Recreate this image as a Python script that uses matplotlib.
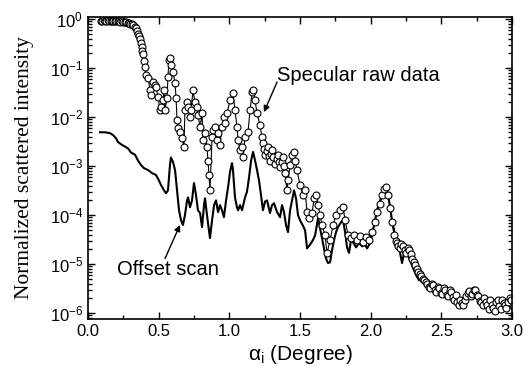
import matplotlib
matplotlib.use("Agg")
import matplotlib.pyplot as plt
from matplotlib.ticker import LogLocator, MultipleLocator, NullFormatter

plt.rcParams['font.family'] = ['Liberation Sans', 'DejaVu Sans']
plt.rcParams['mathtext.fontset'] = 'custom'
plt.rcParams['mathtext.rm'] = 'Liberation Sans'
plt.rcParams['mathtext.it'] = 'Liberation Sans:italic'

# specular raw data (open circles)
spec_x = [0.09, 0.10, 0.11, 0.12, 0.13, 0.14, 0.15, 0.16, 0.17, 0.18, 0.19, 0.20,
          0.21, 0.22, 0.23, 0.24, 0.25, 0.26, 0.27, 0.28, 0.29, 0.30, 0.31, 0.32,
          0.33, 0.34, 0.35, 0.355, 0.36, 0.37, 0.375, 0.38, 0.385, 0.39, 0.395, 0.40,
          0.410, 0.425, 0.439, 0.446, 0.460, 0.474, 0.481, 0.495, 0.510, 0.517, 0.531, 0.538,
          0.545, 0.559, 0.566, 0.573, 0.580, 0.587, 0.602, 0.616, 0.623, 0.630, 0.637, 0.651,
          0.665, 0.679, 0.686, 0.701, 0.708, 0.722, 0.729, 0.743, 0.757, 0.771, 0.778, 0.793,
          0.807, 0.814, 0.828, 0.842, 0.849, 0.856, 0.863, 0.878, 0.885, 0.899, 0.913, 0.920,
          0.934, 0.948, 0.962, 0.970, 0.984, 1.005, 1.026, 1.040, 1.054, 1.062, 1.076, 1.090,
          1.097, 1.111, 1.132, 1.147, 1.161, 1.168, 1.182, 1.196, 1.217, 1.231,
          1.238, 1.245, 1.253, 1.264, 1.274, 1.281, 1.288, 1.295, 1.302, 1.312, 1.323, 1.334,
          1.345, 1.352, 1.359, 1.370, 1.380, 1.387, 1.394, 1.408, 1.415, 1.430, 1.444,
          1.458, 1.465, 1.479, 1.500, 1.522, 1.536, 1.550, 1.564, 1.585, 1.600, 1.614, 1.628,
          1.642, 1.656, 1.677, 1.691, 1.713, 1.734, 1.755, 1.783, 1.805, 1.819, 1.840, 1.861,
          1.882, 1.904, 1.925, 1.946, 1.967, 1.989, 2.010, 2.031, 2.045, 2.067, 2.081, 2.095,
          2.109, 2.123, 2.137, 2.151, 2.166, 2.180,
          2.187, 2.195, 2.208, 2.218, 2.229, 2.240, 2.250, 2.261, 2.272, 2.282, 2.293, 2.304,
          2.314, 2.325, 2.335, 2.346, 2.357, 2.367, 2.378, 2.389, 2.399, 2.410, 2.420, 2.431,
          2.442, 2.452, 2.463, 2.474, 2.484, 2.495, 2.505, 2.516, 2.527, 2.537, 2.548, 2.558,
          2.569, 2.580, 2.590, 2.601, 2.611, 2.622, 2.633, 2.643, 2.654, 2.664, 2.675, 2.686,
          2.696, 2.707, 2.718, 2.728, 2.739, 2.750, 2.760, 2.771, 2.781, 2.792, 2.802, 2.813,
          2.824, 2.834, 2.845, 2.856, 2.866, 2.877, 2.887, 2.898, 2.909, 2.919, 2.930, 2.940,
          2.951, 2.961, 2.972, 2.983, 2.994]
spec_y = [0.93, 0.92, 0.94, 0.93, 0.92, 0.94, 0.93, 0.92, 0.91, 0.93, 0.92, 0.91,
          0.90, 0.91, 0.89, 0.90, 0.88, 0.87, 0.86, 0.84, 0.82, 0.80, 0.78, 0.74,
          0.70, 0.66, 0.56, 0.50, 0.45, 0.40, 0.33, 0.27, 0.22, 0.19, 0.14, 0.105,
          0.072, 0.063, 0.035, 0.028, 0.051, 0.045, 0.041, 0.026, 0.014, 0.016, 0.022, 0.035,
          0.014, 0.025, 0.066, 0.145, 0.16, 0.115, 0.083, 0.049, 0.025, 0.0087, 0.006, 0.0049,
          0.0037, 0.0025, 0.014, 0.020, 0.016, 0.010, 0.014, 0.035, 0.020, 0.016, 0.011, 0.0063,
          0.012, 0.0034, 0.0047, 0.0025, 0.0013, 6.6e-4, 3.2e-4, 0.0039, 0.0054, 0.0063, 0.0034, 0.0047,
          0.0027, 0.0063, 0.010, 0.0076, 0.012, 0.022, 0.031, 0.014, 0.0063, 0.0034, 0.0021, 0.0025,
          0.0015, 0.0039, 0.0049, 0.014, 0.032, 0.035, 0.022, 0.012, 0.0069, 0.0039,
          0.0030, 0.0022, 0.0017, 0.0020, 0.0025, 0.0016, 0.0013, 0.0018, 0.0021, 0.0015, 0.0011, 0.0014,
          0.0017, 0.0012, 9.5e-4, 0.0012, 0.0015, 0.0010, 7.2e-4, 3.2e-4, 5.1e-4, 0.00105, 0.0017,
          0.00195, 0.0013, 8.3e-4, 4.1e-4, 2.6e-4, 3.2e-4, 1.15e-4, 8.7e-5, 1.1e-4, 2.2e-4, 2.6e-4, 1.6e-4,
          1.0e-4, 6.3e-5, 3.9e-5, 1.7e-5, 3.1e-5, 6.3e-5, 1.0e-4, 1.26e-4, 1.45e-4, 7.9e-5, 3.9e-5, 3.4e-5,
          3.9e-5, 3.1e-5, 3.7e-5, 2.8e-5, 3.5e-5, 3.1e-5, 4.5e-5, 7.2e-5, 1.15e-4, 1.7e-4, 2.6e-4, 3.4e-4,
          3.7e-4, 2.6e-4, 1.4e-4, 7.2e-5, 3.9e-5, 3.0e-5,
          2.7e-5, 2.4e-5, 2.1e-5, 2.6e-5, 2.3e-5, 1.9e-5, 1.7e-5, 2.1e-5, 1.95e-5, 1.6e-5, 1.3e-5, 1.1e-5,
          9.5e-6, 8.0e-6, 6.9e-6, 6.3e-6, 5.8e-6, 5.0e-6, 4.7e-6, 4.3e-6, 3.9e-6, 3.5e-6, 3.2e-6, 4.0e-6,
          3.7e-6, 3.0e-6, 2.7e-6, 3.4e-6, 3.2e-6, 2.6e-6, 2.5e-6, 3.3e-6, 3.0e-6, 2.4e-6, 2.2e-6, 3.0e-6,
          2.7e-6, 2.1e-6, 1.9e-6, 2.3e-6, 1.7e-6, 1.5e-6, 1.85e-6, 1.6e-6, 1.5e-6, 1.9e-6, 2.2e-6, 2.6e-6,
          2.8e-6, 2.2e-6, 2.5e-6, 3.0e-6, 3.0e-6, 2.4e-6, 2.2e-6, 1.8e-6, 1.7e-6, 1.5e-6, 2.0e-6, 1.7e-6,
          1.45e-6, 1.2e-6, 1.85e-6, 1.5e-6, 1.3e-6, 1.1e-6, 1.7e-6, 1.9e-6, 1.4e-6, 1.2e-6, 1.85e-6, 1.6e-6,
          1.45e-6, 1.25e-6, 1.7e-6, 2.0e-6, 1.85e-6]

# offset scan (solid line)
off_x = [0.085, 0.120, 0.156, 0.177, 0.198, 0.212, 0.241, 0.262, 0.283, 0.304, 0.333, 0.354,
         0.375, 0.396, 0.425, 0.453, 0.481, 0.502, 0.517, 0.538, 0.552, 0.566, 0.580, 0.587,
         0.602, 0.616, 0.630, 0.644, 0.658, 0.672, 0.686, 0.701, 0.708, 0.722, 0.736, 0.750,
         0.764, 0.778, 0.793, 0.807, 0.821, 0.828, 0.842, 0.856, 0.863, 0.878, 0.892, 0.906,
         0.920, 0.934, 0.948, 0.962, 0.977, 0.991, 1.005, 1.019, 1.026, 1.040, 1.054, 1.062,
         1.076, 1.090, 1.111, 1.125, 1.139, 1.154, 1.168, 1.182, 1.196, 1.210, 1.224, 1.238,
         1.253, 1.267, 1.288, 1.302, 1.316, 1.338, 1.359, 1.373, 1.387, 1.401, 1.415, 1.430,
         1.444, 1.458, 1.472, 1.486, 1.500, 1.522, 1.536, 1.550, 1.571, 1.592, 1.607, 1.628,
         1.642, 1.656, 1.670, 1.684, 1.699, 1.713, 1.727, 1.741, 1.755, 1.769, 1.791, 1.805,
         1.819, 1.833, 1.847, 1.861, 1.875, 1.897, 1.918, 1.939, 1.960, 1.975, 1.996, 2.010,
         2.031, 2.045, 2.067, 2.081, 2.102, 2.116, 2.130, 2.151, 2.173, 2.187, 2.208, 2.222,
         2.236, 2.250, 2.265, 2.279, 2.300, 2.321, 2.342, 2.364, 2.385, 2.406, 2.427, 2.449,
         2.470, 2.491, 2.512, 2.534, 2.555, 2.576, 2.597, 2.619, 2.640, 2.661, 2.682, 2.703,
         2.725, 2.746, 2.767, 2.788, 2.810, 2.831, 2.845, 2.866, 2.887, 2.909, 2.930, 2.951,
         2.972, 2.994]
off_y = [0.0049, 0.0049, 0.0047, 0.0043, 0.0037, 0.0031, 0.0027, 0.0025, 0.0023, 0.0019, 0.0017, 0.0013,
         0.00105, 9.1e-4, 8.3e-4, 7.2e-4, 6.6e-4, 5.1e-4, 4.1e-4, 3.2e-4, 2.8e-4, 3.2e-4, 0.00105, 0.0015,
         0.0012, 8.3e-4, 3.2e-4, 1.26e-4, 7.9e-5, 6.3e-5, 1.0e-4, 2.0e-4, 2.3e-4, 1.45e-4, 2.0e-4, 4.5e-4,
         2.6e-4, 1.26e-4, 1.1e-4, 5.7e-5, 1.6e-4, 2.2e-4, 1.0e-4, 4.9e-5, 3.4e-5, 7.9e-5, 1.6e-4, 2.0e-4,
         1.15e-4, 1.6e-4, 1.26e-4, 9.1e-5, 2.0e-4, 3.7e-4, 7.6e-4, 0.00115, 8.3e-4, 2.3e-4, 1.45e-4, 1.26e-4,
         1.6e-4, 1.26e-4, 2.3e-4, 3.0e-4, 5.7e-4, 0.0013, 0.00195, 0.0013, 8.3e-4, 5.1e-4, 2.6e-4, 1.26e-4,
         1.9e-4, 2.0e-4, 1.1e-4, 1.6e-4, 1.75e-4, 1.15e-4, 9.1e-5, 1.6e-4, 1.15e-4, 6.3e-5, 4.5e-5, 1.26e-4,
         2.0e-4, 3.2e-4, 2.2e-4, 1.0e-4, 7.9e-5, 6.0e-5, 4.9e-5, 2.1e-5, 2.5e-5, 3.1e-5, 3.9e-5, 8.7e-5,
         5.4e-5, 3.4e-5, 2.1e-5, 1.3e-5, 1.05e-5, 1.1e-5, 1.95e-5, 3.1e-5, 4.5e-5, 5.7e-5, 7.2e-5, 7.9e-5,
         4.5e-5, 2.2e-5, 1.7e-5, 3.1e-5, 2.8e-5, 2.2e-5, 2.7e-5, 2.3e-5, 2.5e-5, 2.1e-5, 2.7e-5, 3.9e-5,
         7.9e-5, 1.26e-4, 2.0e-4, 2.6e-4, 3.7e-4, 3.2e-4, 2.0e-4, 7.9e-5, 3.9e-5, 2.7e-5, 1.7e-5, 1.05e-5,
         1.7e-5, 1.95e-5, 1.5e-5, 1.2e-5, 8.3e-6, 6.0e-6, 4.7e-6, 5.1e-6, 3.9e-6, 3.5e-6, 3.9e-6, 3.0e-6,
         3.2e-6, 2.5e-6, 2.7e-6, 2.0e-6, 2.3e-6, 1.7e-6, 1.85e-6, 1.45e-6, 1.6e-6, 1.4e-6, 2.0e-6, 2.6e-6,
         2.0e-6, 2.2e-6, 1.6e-6, 1.4e-6, 1.6e-6, 1.05e-6, 1.4e-6, 1.15e-6, 1.5e-6, 1.15e-6, 1.4e-6, 1.1e-6,
         1.45e-6, 1.26e-6]

fig = plt.figure(figsize=(5.31, 3.77), dpi=100)
ax = fig.add_axes([0.1657, 0.1538, 0.7985, 0.8011])

ax.plot(off_x, off_y, color='black', lw=1.5)
ax.plot(spec_x, spec_y, color='black', lw=0.8, marker='o', ms=5,
        mfc='white', mec='black', mew=0.8)

ax.set_yscale('log')
ax.set_xlim(0.0, 3.0)
ax.set_ylim(7.6e-7, 1.1)
ax.xaxis.set_major_locator(MultipleLocator(0.5))
ax.xaxis.set_minor_locator(MultipleLocator(0.25))
ax.yaxis.set_major_locator(LogLocator(base=10, numticks=20))
ax.yaxis.set_minor_locator(LogLocator(base=10, subs=range(2, 10), numticks=20))
ax.yaxis.set_minor_formatter(NullFormatter())
ax.tick_params(which='both', direction='in', top=True, right=True, width=1.0)
ax.tick_params(which='major', length=5, labelsize=12)
ax.tick_params(which='minor', length=3)
ax.set_xticks([0.0, 0.5, 1.0, 1.5, 2.0, 2.5, 3.0])
ax.set_xticklabels(['0.0', '0.5', '1.0', '1.5', '2.0', '2.5', '3.0'])
for s in ax.spines.values():
    s.set_linewidth(1.2)

ax.set_xlabel(r'$\mathregular{\alpha_i}$ (Degree)', fontsize=15, labelpad=3)
ax.set_ylabel('Normalized scattered intensity', fontsize=15.5,
              family='Liberation Serif')
ax.yaxis.set_label_coords(-0.127, 0.5)

ax.text(1.34, 0.072, 'Specular raw data', fontsize=14.5, ha='left', va='center')
ax.annotate('', xy=(1.245, 0.0126), xytext=(1.338, 0.052),
            arrowprops=dict(arrowstyle='-|>', color='black', lw=1.0,
                            mutation_scale=9, shrinkA=0, shrinkB=0))
ax.text(0.205, 7.9e-6, 'Offset scan', fontsize=14.5, ha='left', va='center')
ax.annotate('', xy=(0.651, 6.3e-5), xytext=(0.545, 1.3e-5),
            arrowprops=dict(arrowstyle='-|>', color='black', lw=1.0,
                            mutation_scale=9, shrinkA=0, shrinkB=0))

fig.savefig('out.png', dpi=100)
